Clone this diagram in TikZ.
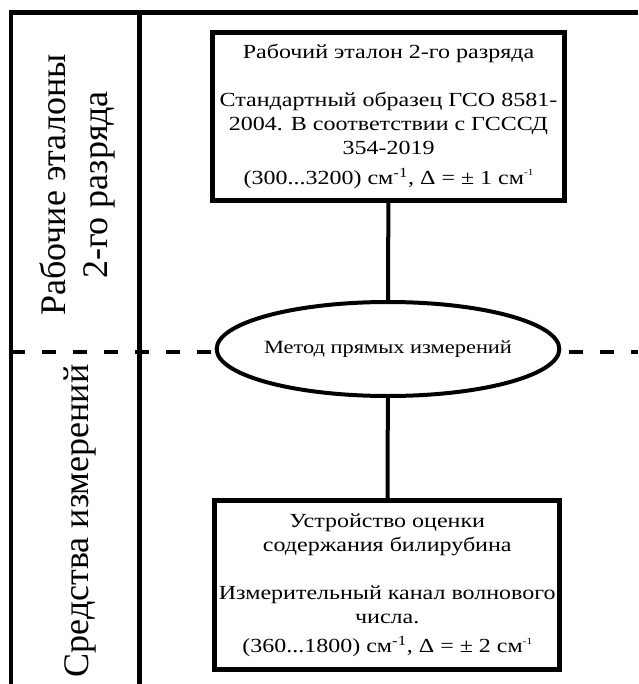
\documentclass[tikz,border=0pt]{standalone}
\usepackage{fontspec}
\setmainfont{Liberation Serif}
\newfontfamily\boxfont[FakeStretch=1.2]{Liberation Serif}
\usetikzlibrary{shapes.geometric,positioning}

\newcommand{\supsmall}[1]{\raisebox{0.9ex}{\fontsize{7}{8}\selectfont #1}}

\begin{document}
\begin{tikzpicture}[
    x=0.75pt, y=-0.75pt,
    every node/.style={inner sep=0pt, outer sep=0pt},
    boxtext/.style={font=\boxfont\fontsize{15}{18}\selectfont, align=center},
    stdbox/.style={rectangle, draw=black, fill=white, line width=3.7pt,
                   minimum width=264pt, minimum height=126pt, boxtext},
    method/.style={ellipse, draw=black, fill=white, line width=3pt,
                   minimum width=257pt, minimum height=70.5pt},
    sidelabel/.style={rotate=90, align=center, font=\fontsize{27}{32}\selectfont},
    frame/.style={line width=3.4pt, black},
    sepline/.style={line width=3.6pt, black, dash pattern=on 10.5pt off 12.75pt},
    link/.style={line width=3pt, black}
]
\useasboundingbox (0,0) rectangle (638,684);

% Frame of the table
\coordinate (frameBL) at (11,684);
\coordinate (frameTL) at (11,12.5);
\coordinate (frameTR) at (638,12.5);
\coordinate (colTop)  at (139.5,12.5);
\coordinate (colBot)  at (139.5,684);
\draw[frame] (frameBL) -- (frameTL) -- (frameTR);
\draw[frame] (colTop) -- (colBot);

% Border between the levels
\coordinate (sepL) at (11,352);
\coordinate (sepR) at (638,352);
\draw[sepline] (sepL) -- (sepR);

% Level labels
\node[sidelabel] (lvlref) at (77.5,185) {Рабочие эталоны\\2-го разряда};
\node[sidelabel] (lvldev) at (80,521) {Средства измерений};

% Scheme
\node[stdbox] (refbox) at (388.5,116.5) {Рабочий эталон 2-го разряда\\[18pt]
    \makebox[250pt]{Стандартный образец ГСО 8581-}\\
    2004. В соответствии с ГСССД\\
    354-2019\\[4pt]
    (300...3200) см\textsuperscript{-1}, Δ = ± 1 см\supsmall{-1}};
\node[method, label={[boxtext, font=\boxfont\fontsize{14}{16}\selectfont]center:Метод прямых измерений}]
    (method) at (388,349) {};
\node[stdbox, minimum width=259pt, minimum height=127pt] (devbox) at (387.25,585.25)
    {Устройство оценки\\
    содержания билирубина\\[18pt]
    \makebox[250pt]{Измерительный канал волнового}\\
    числа.\\[4pt]
    (360...1800) см\textsuperscript{-1}, Δ = ± 2 см\supsmall{-1}};

% Connections
\draw[link] (refbox) -- (method);
\draw[link] (method) -- (devbox);

\end{tikzpicture}
\end{document}
